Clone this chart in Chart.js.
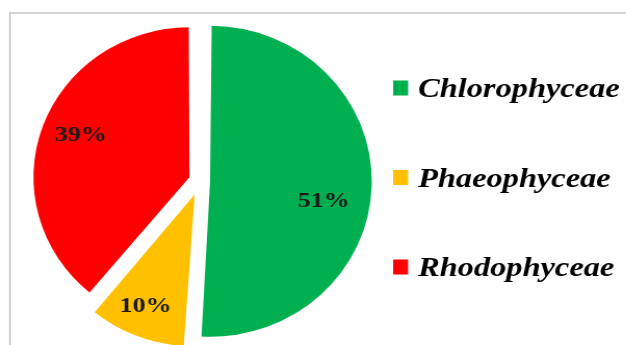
<!DOCTYPE html>
<html>
<head>
<meta charset="utf-8">
<script src="https://cdn.jsdelivr.net/npm/chart.js@4.4.1/dist/chart.umd.min.js"></script>
<style>
  html, body { margin: 0; padding: 0; background: #fff; }
  #wrap { position: relative; width: 626px; height: 345px; overflow: hidden; }
  #frame { position: absolute; left: 9px; top: 12px; right: -5px; bottom: -5px;
           border-top: 2px solid #d2d2d2; border-left: 2px solid #d2d2d2; }
  /* the original picture is a little wider than tall */
  #chart { position: absolute; left: 0; top: 0; transform: scaleX(1.04); transform-origin: 0 0; }
</style>
</head>
<body>
<div id="wrap">
  <div id="frame"></div>
  <canvas id="chart" width="626" height="345"></canvas>
</div>
<script>
const categories = ['Chlorophyceae', 'Phaeophyceae', 'Rhodophyceae'];
const shares = [51, 10, 39];
const sliceColors = ['#00b050', '#ffc000', '#ff0000'];

// pull-out of each slice in pixels (Chart.js v4 divides arc offset by 4)
const sliceOffsets = [9.5, 14.5, 11];
// where the percentage sits: turn (rad) from mid-angle, and share of radius
const labelTurn = [0.14, 0.02, 0.03];
const labelReach = [0.76, 0.83, 0.77];

// percentage text inside each slice
const sliceLabels = {
  id: 'sliceLabels',
  afterDatasetsDraw(chart) {
    const ctx = chart.ctx;
    const meta = chart.getDatasetMeta(0);
    ctx.save();
    ctx.fillStyle = '#1a1a1a';
    ctx.font = 'bold 22px "Liberation Serif", serif';
    ctx.textAlign = 'center';
    ctx.textBaseline = 'middle';
    meta.data.forEach((arc, i) => {
      const p = arc.getProps(['x', 'y', 'startAngle', 'endAngle', 'outerRadius'], true);
      const mid = (p.startAngle + p.endAngle) / 2 + labelTurn[i];
      const r = p.outerRadius * labelReach[i] + sliceOffsets[i];
      ctx.save();
      ctx.translate(p.x + Math.cos(mid) * r, p.y + Math.sin(mid) * r);
      ctx.scale(1.135, 1);
      ctx.fillText(chart.data.datasets[0].data[i] + '%', 0, 0);
      ctx.restore();
    });
    ctx.restore();
  }
};

// legend on the right, spaced out like the original
const sideLegend = {
  id: 'sideLegend',
  afterDraw(chart) {
    const ctx = chart.ctx;
    const boxX = 378, firstY = 88, step = 89.5, boxW = 14.4, boxH = 15;
    ctx.save();
    ctx.font = 'italic bold 27px "Liberation Serif", serif';
    ctx.textBaseline = 'alphabetic';
    chart.data.labels.forEach((label, i) => {
      const cy = firstY + i * step;
      ctx.fillStyle = chart.data.datasets[0].backgroundColor[i];
      ctx.fillRect(boxX, cy - boxH / 2, boxW, boxH);
      ctx.fillStyle = '#000';
      ctx.save();
      ctx.translate(boxX + 24, cy + 9);
      ctx.scale(1.154, 1);
      ctx.fillText(label, 0, 0);
      ctx.restore();
    });
    ctx.restore();
  }
};

new Chart(document.getElementById('chart'), {
  type: 'pie',
  data: {
    labels: categories,
    datasets: [{
      data: shares,
      backgroundColor: sliceColors,
      borderWidth: 0,
      offset: sliceOffsets.map(o => o * 4)
    }]
  },
  options: {
    responsive: false,
    animation: false,
    radius: 146,
    layout: { padding: { top: 20, bottom: 3, left: 20, right: 261 } },
    plugins: {
      legend: { display: false },
      tooltip: { enabled: false }
    }
  },
  plugins: [sliceLabels, sideLegend]
});
</script>
</body>
</html>
